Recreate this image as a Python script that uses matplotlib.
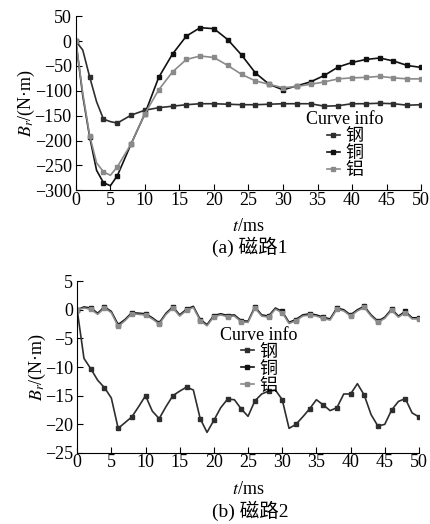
import matplotlib
matplotlib.use("Agg")
import matplotlib.pyplot as plt

plt.rcParams["font.family"] = ["Liberation Serif", "Noto Sans CJK SC"]
plt.rcParams["mathtext.fontset"] = "stix"

# ── data: panel (a) 磁路1, every 2 ms (plus t=1,3 on the fast drop) ──────────
t_a = [0, 1, 2, 3, 4, 5, 6, 8, 10, 12, 14, 16, 18, 20, 22, 24, 26, 28, 30,
       32, 34, 36, 38, 40, 42, 44, 46, 48, 50]
steel_a = [0, -18, -72, -122, -157, -162, -165, -149, -139, -134, -131, -128,
           -126, -126, -127, -128, -128, -127, -126, -126, -126, -131, -130,
           -126, -126, -125, -126, -129, -128]
copper_a = [0, -110, -193, -260, -285, -291, -271, -207, -146, -73, -26, 10,
            27, 25, 3, -28, -64, -87, -98, -90, -82, -69, -52, -43, -37, -34,
            -40, -49, -53]
alu_a = [0, -105, -190, -245, -263, -270, -253, -207, -146, -98, -62, -37,
         -30, -33, -49, -67, -80, -87, -94, -91, -87, -82, -76, -74, -73, -71,
         -74, -76, -76]

# ── data: panel (b) 磁路2, every 1 ms ────────────────────────────────────────
t_b = list(range(51))
steel_b = [0, -8.5, -10.3, -12.3, -13.6, -15.4, -20.7, -19.7, -18.7, -16.9,
           -15.0, -17.7, -19.0, -16.9, -15.0, -14.2, -13.5, -14.0, -19.0,
           -21.4, -19.3, -17.1, -15.6, -15.7, -17.3, -18.6, -15.9, -14.7,
           -14.2, -14.0, -15.7, -20.7, -20.0, -18.7, -17.3, -15.7, -16.6,
           -17.6, -17.1, -14.7, -14.7, -12.9, -14.9, -18.3, -20.3, -20.0,
           -17.5, -16.0, -15.5, -18.0, -18.7]
copper_b = [0, 0.5, 0.3, -0.6, 0.5, -0.3, -2.6, -1.7, -0.5, -0.6, -0.7, -1.4,
            -2.3, -0.6, 0.5, -0.9, 0.1, 0.6, -1.7, -2.6, -1.0, -0.7, -1.0,
            -0.9, -1.9, -2.0, 0.5, -0.9, -1.1, 0.3, -0.3, -2.2, -1.7, -0.9,
            -0.7, -0.9, -1.3, -1.6, 0.3, 0.0, -0.9, 0.0, 0.6, -0.9, -2.0,
            -1.3, 0.1, -1.1, -0.3, -1.4, -1.4]
alu_b = [0, 0.3, 0.1, -0.8, 0.3, -0.5, -2.9, -1.9, -0.7, -0.8, -0.9, -1.6,
         -2.5, -0.8, 0.3, -1.1, -0.1, 0.4, -1.9, -2.8, -1.2, -0.9, -1.2,
         -1.1, -2.1, -2.2, 0.3, -1.1, -1.3, 0.1, -0.5, -2.4, -1.9, -1.1,
         -0.9, -1.1, -1.5, -1.8, 0.1, -0.2, -1.1, -0.2, 0.4, -1.1, -2.2,
         -1.5, -0.1, -1.3, -0.5, -1.6, -1.6]

labels = ["钢", "铜", "铝"]
colors = ["#2e2e2e", "#111111", "#8a8a8a"]

FS = 13

fig = plt.figure(figsize=(4.31, 5.24), dpi=100)
ax1 = fig.add_axes([0.176, 0.637, 0.801, 0.332])
ax2 = fig.add_axes([0.179, 0.1355, 0.793, 0.328])


def style(ax, ylim, yticks):
    ax.set_xlim(0, 50)
    ax.set_ylim(*ylim)
    ax.set_xticks(range(0, 51, 5))
    ax.set_yticks(yticks)
    for s in ["top", "right"]:
        ax.spines[s].set_visible(False)
    ax.tick_params(direction="in", length=4, labelsize=FS, pad=1)
    ax.tick_params(axis="y", pad=3)
    ax.set_xlabel(r"$t$/ms", fontsize=FS, labelpad=7)
    ax.set_ylabel(r"$B_r$/(N·m)", fontsize=FS, labelpad=-2)


def legend(ax, x, y):
    ax.legend(title="Curve info", loc="upper left", bbox_to_anchor=(x, y),
              bbox_transform=fig.transFigure, frameon=False, fontsize=FS,
              title_fontsize=FS, handlelength=0.7, handletextpad=0.3,
              labelspacing=0.0, borderpad=0.0, markerscale=1.0)


# panel (a)
ev_a = [i for i, t in enumerate(t_a) if t % 2 == 0]
for y, lab, c in zip([steel_a, copper_a, alu_a], labels, colors):
    ax1.plot(t_a, y, color=c, lw=1.2, marker="s", ms=2.5, markevery=ev_a,
             label=lab)
style(ax1, (-300, 50), range(-300, 51, 50))
legend(ax1, 0.69, 0.805)
fig.text(0.58, 0.529, "(a) 磁路1", ha="center", va="center", fontsize=14)

# panel (b)
for y, lab, c in zip([steel_b, copper_b, alu_b], labels, colors):
    ax2.plot(t_b, y, color=c, lw=1.2, marker="s", ms=2.5, markevery=2,
             label=lab)
style(ax2, (-25, 5), range(-25, 6, 5))
legend(ax2, 0.49, 0.394)
fig.text(0.58, 0.025, "(b) 磁路2", ha="center", va="center", fontsize=14)

fig.savefig("out.png", dpi=100)
